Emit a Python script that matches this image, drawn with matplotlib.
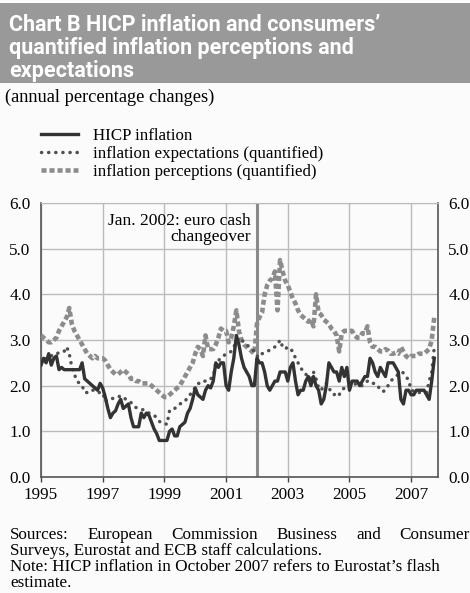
import matplotlib
matplotlib.use("Agg")
import matplotlib.pyplot as plt
from matplotlib.patches import Rectangle
import numpy as np

W, H = 470, 593

# monthly data, Jan 1995 - Oct 2007 (annual percentage changes)
hicp = [
    2.45, 2.6, 2.5, 2.7, 2.45, 2.6, 2.65, 2.35, 2.4, 2.35, 2.35, 2.35,   # 1995
    2.35, 2.35, 2.35, 2.35, 2.5, 2.15, 2.1, 2.05, 2.0, 1.95, 1.9, 2.05,  # 1996
    1.95, 1.75, 1.5, 1.3, 1.4, 1.45, 1.6, 1.7, 1.5, 1.55, 1.6, 1.3,      # 1997
    1.1, 1.1, 1.1, 1.4, 1.3, 1.4, 1.35, 1.2, 1.05, 0.95, 0.8, 0.8,       # 1998
    0.8, 0.8, 1.0, 1.05, 0.9, 0.9, 1.1, 1.15, 1.2, 1.4, 1.5, 1.7,        # 1999
    1.95, 1.8, 1.75, 1.7, 1.9, 2.0, 1.95, 2.1, 2.5, 2.4, 2.5, 2.5,       # 2000
    2.0, 1.9, 2.3, 2.6, 3.1, 2.9, 2.6, 2.4, 2.3, 2.2, 2.0, 2.0,          # 2001
    2.6, 2.5, 2.5, 2.3, 2.0, 1.9, 2.0, 2.1, 2.1, 2.3, 2.3, 2.3,          # 2002
    2.1, 2.4, 2.5, 2.1, 1.8, 1.9, 1.9, 2.1, 2.2, 2.0, 2.2, 2.0,          # 2003
    1.9, 1.6, 1.7, 2.0, 2.5, 2.4, 2.3, 2.3, 2.1, 2.4, 2.2, 2.4,          # 2004
    1.9, 2.1, 2.1, 2.1, 2.0, 2.1, 2.2, 2.2, 2.6, 2.5, 2.3, 2.2,          # 2005
    2.4, 2.3, 2.2, 2.5, 2.5, 2.5, 2.4, 2.3, 1.7, 1.6, 1.9, 1.9,          # 2006
    1.8, 1.8, 1.9, 1.9, 1.9, 1.9, 1.8, 1.7, 2.1, 2.6,                    # 2007
]
expectations = [
    2.47, 2.55, 2.6, 2.65, 2.65, 2.7, 2.7, 2.72, 2.75, 2.75, 2.85, 2.7,
    2.4, 2.25, 2.1, 2.05, 2.0, 1.85, 1.85, 1.85, 1.9, 1.9, 1.85, 1.85,
    1.85, 1.65, 1.7, 1.72, 1.72, 1.72, 1.75, 1.78, 1.75, 1.7, 1.65, 1.63,
    1.55, 1.52, 1.5, 1.48, 1.47, 1.45, 1.4, 1.37, 1.35, 1.3, 1.22, 1.18,
    1.18, 1.15, 1.45, 1.5, 1.5, 1.55, 1.6, 1.62, 1.65, 1.75, 1.8, 1.9,
    1.95, 2.05, 2.05, 2.1, 2.1, 2.15, 2.15, 2.2, 2.5, 2.55, 2.6, 2.65,
    2.7, 2.72, 2.75, 2.85, 2.95, 3.05, 3.0, 2.95, 2.9, 2.85, 2.8, 2.75,
    2.65, 2.62, 2.7, 2.72, 2.75, 2.78, 2.8, 2.85, 2.9, 3.0, 2.85, 2.8,
    2.85, 2.8, 2.75, 2.6, 2.5, 2.4, 2.3, 2.25, 2.2, 2.15, 2.3, 2.15,
    1.95, 1.9, 2.0, 2.05, 1.95, 1.85, 1.8, 1.85, 1.8, 1.9, 1.95, 1.93,
    1.95, 2.0, 2.05, 2.0, 2.0, 2.0, 2.05, 2.1, 2.1, 2.05, 2.05, 2.0,
    1.9, 1.87, 1.9, 2.0, 2.1, 2.15, 2.2, 2.25, 2.3, 2.28, 2.2, 2.12,
    1.9, 1.88, 1.85, 1.85, 1.85, 1.85, 1.85, 2.1, 2.3, 2.85,
]
perceptions = [
    3.1, 3.05, 3.0, 2.95, 2.95, 3.0, 3.05, 3.2, 3.3, 3.4, 3.5, 3.7,
    3.35, 3.2, 3.1, 3.0, 2.9, 2.8, 2.7, 2.65, 2.6, 2.65, 2.6, 2.6,
    2.6, 2.55, 2.45, 2.35, 2.3, 2.25, 2.25, 2.3, 2.35, 2.3, 2.25, 2.15,
    2.15, 2.1, 2.1, 2.05, 2.05, 2.05, 2.05, 2.0, 1.95, 1.9, 1.85, 1.8,
    1.75, 1.75, 1.8, 1.85, 1.9, 1.95, 2.0, 2.1, 2.2, 2.3, 2.4, 2.5,
    2.7, 2.85, 2.8, 2.65, 3.1, 2.8, 2.8, 2.8, 2.9, 3.05, 3.25, 3.2,
    3.2, 2.95, 3.05, 3.3, 3.65, 3.2, 3.0, 2.9, 2.85, 2.8, 2.75, 2.7,
    3.35, 3.5, 3.6, 4.0, 4.2, 4.3, 4.35, 4.5, 3.65, 4.75, 4.5, 4.3,
    4.2, 4.05, 3.9, 3.8, 3.65, 3.55, 3.5, 3.45, 3.4, 3.45, 3.3, 4.0,
    3.6, 3.55, 3.45, 3.4, 3.35, 3.25, 3.2, 3.1, 2.75, 3.15, 3.2, 3.2,
    3.2, 3.2, 3.1, 3.05, 3.05, 3.15, 3.15, 3.3, 2.95, 2.85, 2.85, 2.8,
    2.75, 2.75, 2.8, 2.77, 2.7, 2.7, 2.72, 2.7, 2.85, 2.75, 2.65, 2.6,
    2.65, 2.65, 2.65, 2.7, 2.7, 2.7, 2.75, 2.8, 3.0, 3.5,
]
dates = 1995 + np.arange(len(hicp)) / 12.0
year_ticks = [1995, 1997, 1999, 2001, 2003, 2005, 2007]
y_ticks = [0, 1, 2, 3, 4, 5, 6]

serif = "Liberation Serif"

fig = plt.figure(figsize=(W / 100, H / 100), dpi=100, facecolor="#fbfbfb")

def fx(x):
    return x / W

def fy(y):
    return 1 - y / H

# title banner
fig.patches.append(Rectangle((0, fy(83)), 1, fy(3) - fy(83), transform=fig.transFigure,
                             facecolor="#999999", edgecolor="none"))
title = ["Chart B HICP inflation and consumers\u2019",
         "quantified inflation perceptions and",
         "expectations"]
for i, line in enumerate(title):
    fig.text(fx(9), fy(31 + i * 23.2), line, color="white", fontsize=15.5,
             fontweight="bold", family="Roboto", va="baseline", ha="left")

fig.text(fx(5), fy(97), "(annual percentage changes)", family=serif, fontsize=13.2,
         va="center", ha="left")

ax = fig.add_axes([fx(41), fy(477), fx(438) - fx(41), fy(203) - fy(477)])
ax.set_facecolor("#fbfbfb")

l1, = ax.plot(dates, perceptions, color="#8c8c8c", lw=3.3, linestyle=(0, (1.1, 0.65)),
              label="inflation perceptions (quantified)", zorder=3)
l2, = ax.plot(dates, expectations, color="#505050", lw=2.5, linestyle=(0, (0.05, 2.0)),
              dash_capstyle="round", label="inflation expectations (quantified)", zorder=4)
l3, = ax.plot(dates, hicp, color="#333333", lw=2.4, label="HICP inflation", zorder=5)

ax.axvline(2002.0, color="#8a8a8a", lw=2.2, zorder=2)
ax.text(2001.8, 5.43, "Jan. 2002: euro cash\nchangeover", ha="right", va="center",
        multialignment="right", family=serif, fontsize=12.6, linespacing=1.05, zorder=6)

ax.set_xlim(1995, 2007.87)
ax.set_ylim(0, 6)
ax.set_xticks(year_ticks)
ax.set_xticklabels([str(y) for y in year_ticks], family=serif, fontsize=12.3)
ax.set_yticks(y_ticks)
ax.set_yticklabels(["%.1f" % v for v in y_ticks], family=serif, fontsize=12.3)
ax.tick_params(axis="y", length=0, pad=7.5, labelright=True, right=False)
ax.tick_params(axis="x", direction="out", length=3.5, width=1, color="#444444", pad=4)
ax.grid(True, color="#bbbbbb", lw=1.0, zorder=1)

for side in ["left", "right", "bottom"]:
    ax.spines[side].set_color("#555555")
    ax.spines[side].set_linewidth(1.2)
ax.spines["top"].set_color("#bbbbbb")

fig.legend(handles=[l3, l2, l1], loc="upper left", bbox_to_anchor=(fx(34), fy(121)),
           frameon=False, prop={"family": serif, "size": 12.2}, handlelength=2.2,
           handletextpad=0.9, labelspacing=0.12, borderaxespad=0)

# footer, first line justified
fs = 12.3
line1 = "Sources: European Commission Business and Consumer".split()
fig.canvas.draw()
r = fig.canvas.get_renderer()
texts = [fig.text(0, fy(539), w, family=serif, fontsize=fs, va="baseline") for w in line1]
widths = [t.get_window_extent(r).width for t in texts]
gap = (W - 10 - sum(widths)) / (len(widths) - 1)
x = 10
for t, w in zip(texts, widths):
    t.set_x(fx(x))
    x += w + gap
for i, line in enumerate(["Surveys, Eurostat and ECB staff calculations.",
                          "Note: HICP inflation in October 2007 refers to Eurostat\u2019s flash",
                          "estimate."]):
    fig.text(fx(10), fy(555 + i * 16), line, family=serif, fontsize=fs, va="baseline")

fig.savefig("out.png", dpi=100, facecolor=fig.get_facecolor())
